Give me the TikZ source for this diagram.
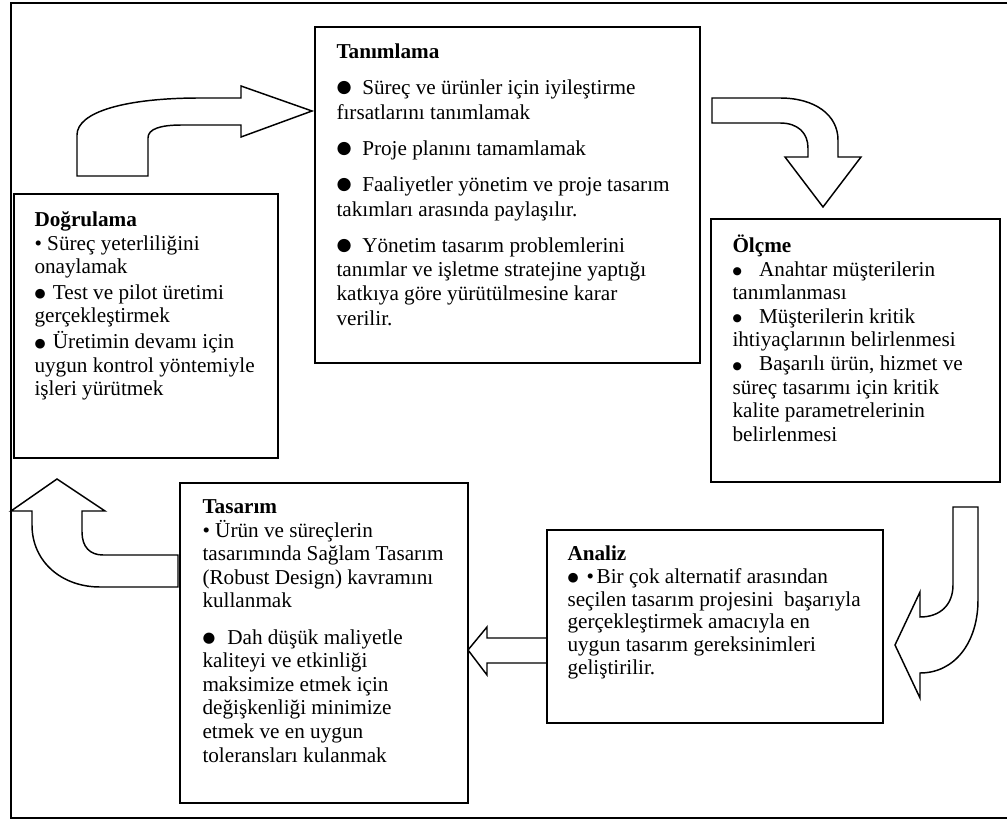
\documentclass[tikz,border=0pt]{standalone}
\usepackage{fontspec}
\setmainfont{Liberation Serif}
\newfontfamily\bulfont{DejaVu Sans}
\newcommand{\bul}[3]{\raisebox{#3}{\bulfont\fontsize{#1}{0}\selectfont ●}\hspace{#2}}
\newcommand{\topstrut}{\rule{0pt}{14pt}}
\tikzset{every picture/.style={line width=0.75pt}}

\begin{document}
\begin{tikzpicture}[x=0.75pt,y=0.75pt,yscale=-1,xscale=1,
  box/.style={line width=1.4pt},
  blockarrow/.style={line width=1.1pt,line join=miter},
  boxtext/.style={anchor=north west,inner sep=0pt,align=left,font=\fontsize{15.9}{17.7}\selectfont}]
\useasboundingbox (0,0) rectangle (1008,820);

%Frame
\draw [line width=1.1pt] (1007,3) -- (11,3) -- (11,818) -- (1007,818) ;

%Boxes
\draw [box] (315,27) rectangle (700,363) ;
\draw [box] (14,194) rectangle (278,458) ;
\draw [box] (711,219) rectangle (1000,482) ;
\draw [box] (547,530) rectangle (883,723) ;
\draw [box] (180,483) rectangle (468,803) ;

%Arrow up and right
\draw [blockarrow] (77,176) -- (77,135) .. controls (77,112) and (125,98) .. (200,98) -- (241,98) -- (241,86) -- (312,111) -- (241,137) -- (241,125) -- (182,125) .. controls (160,125) and (148,129) .. (148,138) -- (148,176) -- cycle ;
%Arrow right and down
\draw [blockarrow] (712,98) -- (780,98) .. controls (815,98) and (838,115) .. (838,140) -- (838,157) -- (861,157) -- (823,207) -- (785,157) -- (808,157) -- (808,148) .. controls (808,133) and (798,123) .. (780,123) -- (712,123) -- cycle ;
%Arrow down and left
\draw [blockarrow] (953,507) -- (978,507) -- (978,600) .. controls (978,642) and (955,673) .. (920,673) -- (920,698) -- (895,645) -- (920,592) -- (920,617) .. controls (940,617) and (953,605) .. (953,585) -- cycle ;
%Arrow left
\draw [blockarrow] (547,638) -- (487,638) -- (487,627) -- (468,650) -- (487,675) -- (487,663) -- (547,663) ;
%Arrow left and up
\draw [blockarrow] (178,555) -- (103,555) .. controls (90,555) and (82,547) .. (82,532) -- (82,511) -- (105,511) -- (57,479) -- (11,511) -- (32,511) -- (32,525) .. controls (32,562) and (62,587) .. (100,587) -- (178,587) -- cycle ;

% Text Node
\draw (336,39.5) node (tanimlama) [boxtext,font=\fontsize{15.9}{18.2}\selectfont] {\topstrut\textbf{Tanımlama}\\[9pt]
\bul{13}{8pt}{1.5pt}Süreç ve ürünler için iyileştirme\\
fırsatlarını tanımlamak\\[9pt]
\bul{13}{8pt}{1.5pt}Proje planını tamamlamak\\[9pt]
\bul{13}{8pt}{1.5pt}Faaliyetler yönetim ve proje tasarım\\
takımları arasında paylaşılır.\\[9pt]
\bul{13}{8pt}{1.5pt}Yönetim tasarım problemlerini\\
tanımlar ve işletme stratejine yaptığı\\
katkıya göre yürütülmesine karar\\
verilir.};
% Text Node
\draw (34,207.3) node (dogrulama) [boxtext] {\topstrut\textbf{Doğrulama}\\
• Süreç yeterliliğini\\
onaylamak\\[1.5pt]
\bul{9.5}{5.5pt}{1pt}Test ve pilot üretimi\\
gerçekleştirmek\\[1.5pt]
\bul{9.5}{5.5pt}{1pt}Üretimin devamı için\\
uygun kontrol yöntemiyle\\
işleri yürütmek};
% Text Node
\draw (732,233.3) node (olcme) [boxtext] {\topstrut\textbf{Ölçme}\\
\bul{8}{13pt}{1pt}Anahtar müşterilerin\\
tanımlanması\\
\bul{8}{13pt}{1pt}Müşterilerin kritik\\
ihtiyaçlarının belirlenmesi\\
\bul{8}{13pt}{1pt}Başarılı ürün, hizmet ve\\
süreç tasarımı için kritik\\
kalite parametrelerinin\\
belirlenmesi};
% Text Node
\draw (567,541.3) node (analiz) [boxtext,font=\fontsize{15.9}{17.1}\selectfont] {\topstrut\textbf{Analiz}\\
\bul{9.5}{6pt}{1pt}•\hspace{2pt}Bir çok alternatif arasından\\
seçilen tasarım projesini\ \ başarıyla\\
gerçekleştirmek amacıyla en\\
uygun tasarım gereksinimleri\\
geliştirilir.};
% Text Node
\draw (202,494.3) node (tasarim) [boxtext] {\topstrut\textbf{Tasarım}\\
• Ürün ve süreçlerin\\
tasarımında Sağlam Tasarım\\
(Robust Design) kavramını\\
kullanmak\\[9.5pt]
\bul{11}{9pt}{1.2pt}Dah düşük maliyetle\\
kaliteyi ve etkinliği\\
maksimize etmek için\\
değişkenliği minimize\\
etmek ve en uygun\\
toleransları kulanmak};

\end{tikzpicture}
\end{document}
